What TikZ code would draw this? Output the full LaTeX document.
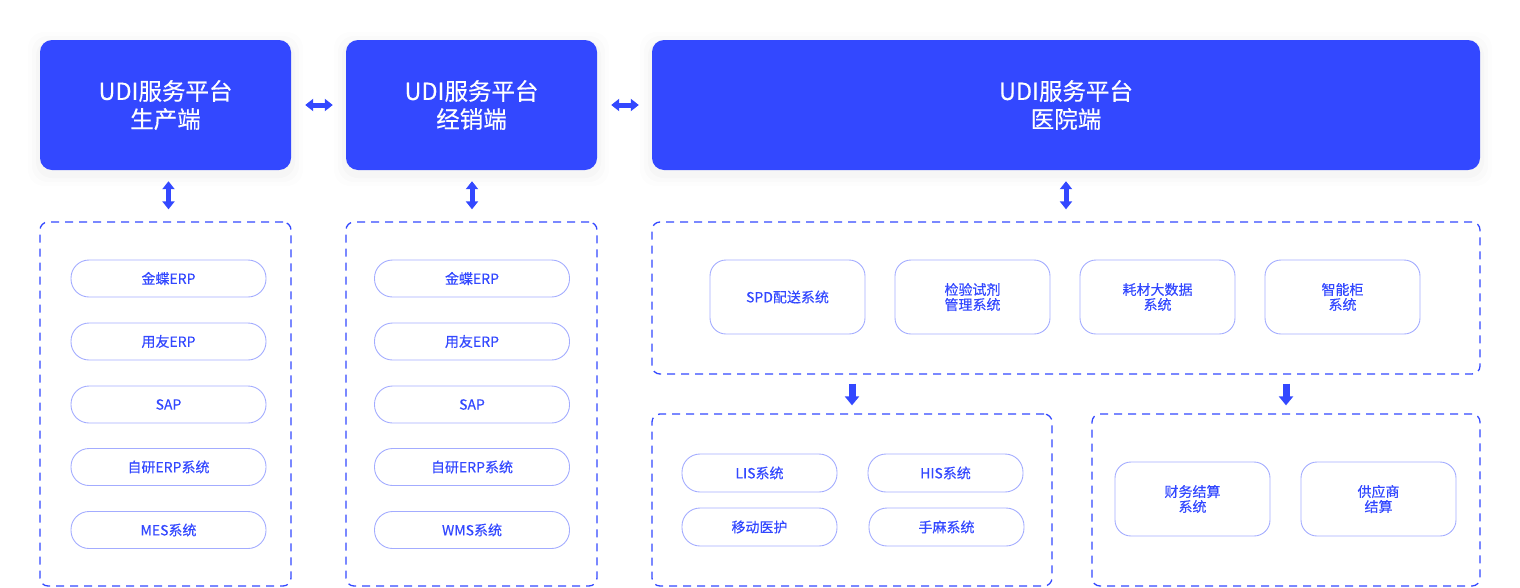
\documentclass[tikz,border=0pt]{standalone}
\usepackage{fontspec}
\newfontfamily\cjk[BoldFont={Noto Sans CJK SC},BoldFeatures={FakeBold=0.35}]{Noto Sans CJK SC}
\usetikzlibrary{arrows.meta}
\definecolor{mainblue}{HTML}{3348FF}
\definecolor{pillline}{HTML}{A3ACFF}
\tikzset{
  topbox/.style={fill=mainblue, draw=none, rounded corners=12pt, text=white, align=center,
    font=\cjk\bfseries\fontsize{23.5}{28}\selectfont, inner sep=0pt},
  dashbox/.style={draw=mainblue, line width=1.3pt, dash pattern=on 8pt off 6pt, rounded corners=8pt, inner sep=0pt},
  pill/.style={draw=pillline, line width=0.9pt, rounded corners=18pt, text=mainblue, align=center,
    font=\cjk\bfseries\fontsize{14}{15}\selectfont, minimum width=195pt, minimum height=37pt, inner sep=0pt},
  sysbox/.style={draw=pillline, line width=0.9pt, rounded corners=16pt, text=mainblue, align=center,
    font=\cjk\bfseries\fontsize{14}{15}\selectfont, minimum width=155pt, minimum height=74pt, inner sep=0pt},
  smallpill/.style={pill, minimum width=155pt, minimum height=38pt},
  dblarrow/.style={draw=mainblue, line width=5pt, {Triangle[length=8pt,width=12pt]}-{Triangle[length=8pt,width=12pt]}},
  downarrow/.style={draw=mainblue, line width=7pt, -{Triangle[length=9pt,width=14pt]}},
}
\begin{document}
\begin{tikzpicture}[x=1pt,y=-1pt]
\useasboundingbox (0,0) rectangle (1520,587);
% glow
\foreach \cx/\w in {165.5/251,471.5/251,1066/828}{
  \foreach \i/\op in {12/0.02,8/0.03,4/0.04}{
    \fill[black!40, opacity=\op, rounded corners=16pt] (\cx-\w/2-\i,40-\i+4) rectangle (\cx+\w/2+\i,170+\i+4);
  }
}
% top boxes
\node[topbox, minimum width=251pt, minimum height=130pt] (p1) at (165.5,105) {UDI服务平台\\生产端};
\node[topbox, minimum width=251pt, minimum height=130pt] (p2) at (471.5,105) {UDI服务平台\\经销端};
\node[topbox, minimum width=828pt, minimum height=130pt] (p3) at (1066,105) {UDI服务平台\\医院端};
% dashed containers
\node[dashbox, minimum width=251pt, minimum height=364pt] (c1) at (165.5,404) {};
\node[dashbox, minimum width=251pt, minimum height=364pt] (c2) at (471.5,404) {};
\node[dashbox, minimum width=828pt, minimum height=152pt] (c3) at (1066,298) {};
\node[dashbox, minimum width=400pt, minimum height=172pt] (c4) at (852,500) {};
\node[dashbox, minimum width=388pt, minimum height=172pt] (c5) at (1286,500) {};
% column 1
\node[pill] (a1) at (168.5,278.5) {金蝶ERP};
\node[pill] (a2) at (168.5,341.5) {用友ERP};
\node[pill] (a3) at (168.5,404.5) {SAP};
\node[pill] (a4) at (168.5,467) {自研ERP系统};
\node[pill] (a5) at (168.5,530) {MES系统};
% column 2
\node[pill] (b1) at (472,278.5) {金蝶ERP};
\node[pill] (b2) at (472,341.5) {用友ERP};
\node[pill] (b3) at (472,404.5) {SAP};
\node[pill] (b4) at (472,467) {自研ERP系统};
\node[pill] (b5) at (472,530) {WMS系统};
% hospital systems
\node[sysbox] (h1) at (787.5,297) {SPD配送系统};
\node[sysbox] (h2) at (972.5,297) {检验试剂\\管理系统};
\node[sysbox] (h3) at (1157.5,297) {耗材大数据\\系统};
\node[sysbox] (h4) at (1342.5,297) {智能柜\\系统};
% box 4
\node[smallpill] (d1) at (759.5,473) {LIS系统};
\node[smallpill] (d2) at (945.5,473) {HIS系统};
\node[smallpill] (d3) at (759.5,527) {移动医护};
\node[smallpill] (d4) at (946.5,527) {手麻系统};
% box 5
\node[sysbox] (e1) at (1192.5,499) {财务结算\\系统};
\node[sysbox] (e2) at (1378.5,499) {供应商\\结算};
% arrows
\draw[dblarrow, shorten <=14pt, shorten >=13pt] (p1.east) -- (p2.west);
\draw[dblarrow, shorten <=14pt, shorten >=13pt] (p2.east) -- (p3.west);
\draw[dblarrow, shorten <=11pt, shorten >=12pt] (p1.south -| a1.north) -- (c1.north -| a1.north);
\draw[dblarrow, shorten <=11pt, shorten >=12pt] (p2.south -| b1.north) -- (c2.north -| b1.north);
\draw[dblarrow, shorten <=11pt, shorten >=12pt] (p3.south) -- (c3.north);
\draw[downarrow, shorten <=9pt, shorten >=8pt] (c3.south -| c4.north) -- (c4.north);
\draw[downarrow, shorten <=9pt, shorten >=8pt] (c3.south -| c5.north) -- (c5.north);
\end{tikzpicture}
\end{document}
